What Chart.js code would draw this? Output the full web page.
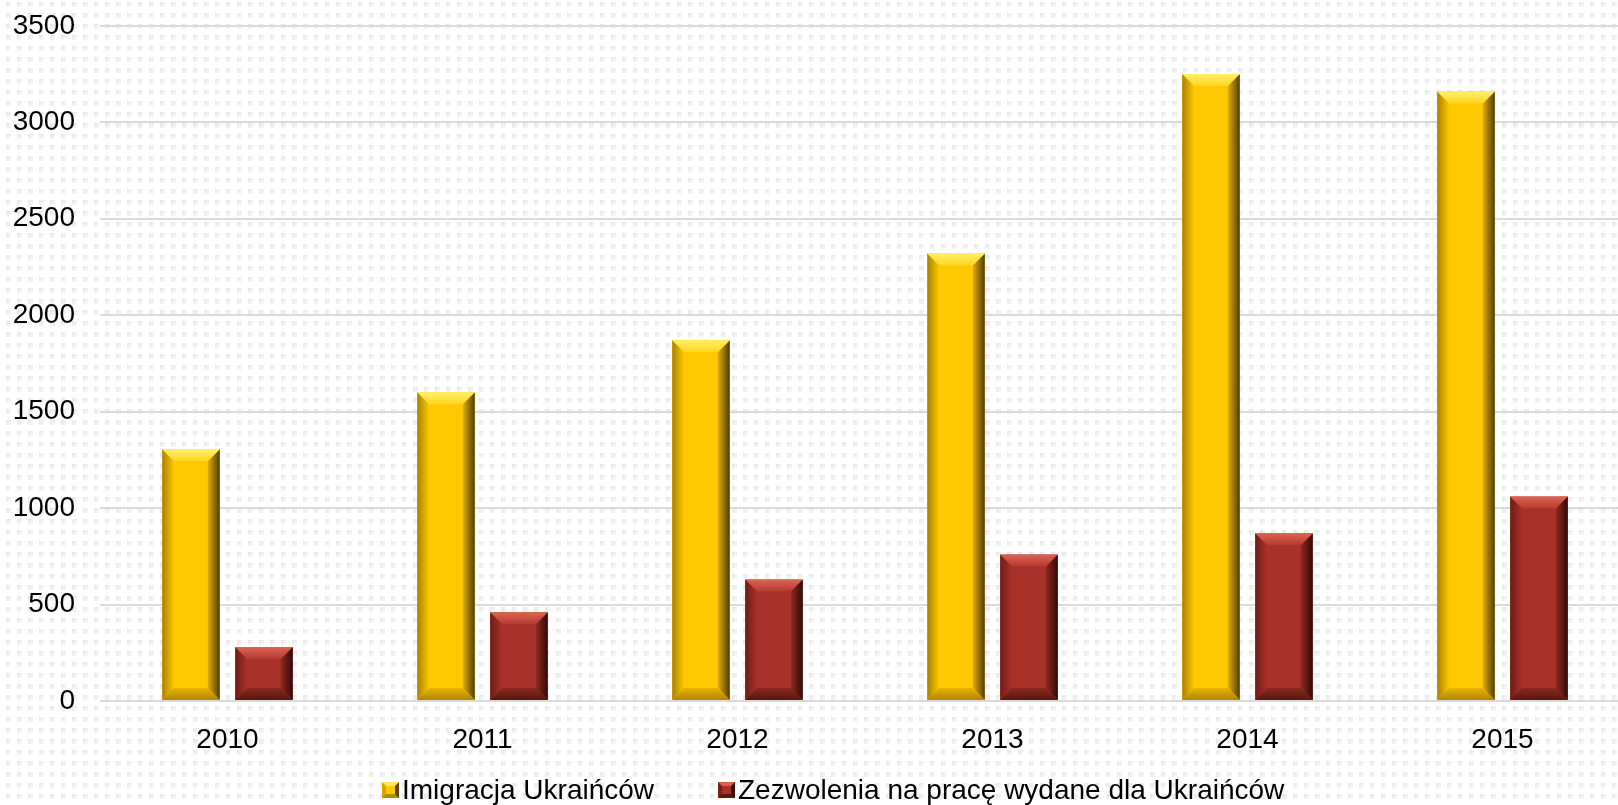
<!DOCTYPE html>
<html>
<head>
<meta charset="utf-8">
<script src="https://cdn.jsdelivr.net/npm/chart.js@4.4.0/dist/chart.umd.min.js"></script>
<style>
  html, body { margin: 0; padding: 0; width: 1618px; height: 805px; overflow: hidden; }
  body {
    position: relative;
    background-color: #fff;
    background-image:
      linear-gradient(to right, rgba(255,255,255,0) 5px, #fff 5px),
      linear-gradient(to bottom, rgba(255,255,255,0) 5px, #fff 5px),
      linear-gradient(135deg, #e4e4e4 0%, #fafafa 45%, #fff 100%);
    background-size: 11px 11px;
    background-position: 6px 2px;
    font-family: "Liberation Sans", Arial, sans-serif;
  }
  #wrap { position: absolute; left: 0; top: -16px; width: 1640px; height: 821px; }
  .item { position: absolute; top: 776px; height: 28px; line-height: 28px; font-size: 28px; color: #000; white-space: nowrap; display: flex; align-items: center; }
  .box { width: 17px; height: 16px; box-sizing: border-box; border: 4px solid; margin-right: 3px; }
  .box.yellow { background: #ffc800; border-color: #ffe860 #5a4600 #b88a00 #d9a600; }
  .box.red { background: #a8322a; border-color: #d8604e #3a0e0a #5a1812 #7a2018; }
</style>
</head>
<body>
<div id="wrap"><canvas id="chart" width="1640" height="821"></canvas></div>
<div class="item" style="left:382px"><span class="box yellow"></span>Imigracja Ukraińców</div>
<div class="item" style="left:718px"><span class="box red"></span>Zezwolenia na pracę wydane dla Ukraińców</div>
<script>
  // Data
  var years = ["2010", "2011", "2012", "2013", "2014", "2015"];
  var imigracja = [1305, 1600, 1870, 2320, 3250, 3160];
  var zezwolenia = [280, 460, 630, 760, 870, 1060];
  var yTicks = [0, 500, 1000, 1500, 2000, 2500, 3000, 3500];

  // Bevel colours per dataset
  var bevel = [
    { top: ["#fff06a", "#ffd41e"], right: ["#e6ae00", "#4e3c00"], bottom: ["#eab400", "#b08400"], left: ["#a88200", "#ffc800"] },
    { top: ["#dc6452", "#b63a30"], right: ["#92291f", "#300b08"], bottom: ["#8c2920", "#561710"], left: ["#6e1c15", "#a8322a"] },
  ];

  function grad(ctx, x0, y0, x1, y1, c) {
    var g = ctx.createLinearGradient(x0, y0, x1, y1);
    g.addColorStop(0, c[0]);
    g.addColorStop(1, c[1]);
    return g;
  }

  function poly(ctx, pts, fill) {
    ctx.beginPath();
    ctx.moveTo(pts[0], pts[1]);
    for (var i = 2; i < pts.length; i += 2) ctx.lineTo(pts[i], pts[i + 1]);
    ctx.closePath();
    ctx.fillStyle = fill;
    ctx.fill();
  }

  // Bevelled bar faces
  var bevelPlugin = {
    id: "bevel",
    afterDatasetsDraw: function (chart) {
      var ctx = chart.ctx;
      ctx.save();
      chart.data.datasets.forEach(function (ds, di) {
        var pal = bevel[di];
        chart.getDatasetMeta(di).data.forEach(function (bar) {
          var L = bar.x - bar.width / 2, R = bar.x + bar.width / 2, T = bar.y, B = bar.base;
          var b = Math.min(12, bar.width / 4, (B - T) / 2);
          poly(ctx, [L, T, L + b, T + b, L + b, B - b, L, B], grad(ctx, L, 0, L + b, 0, pal.left));
          poly(ctx, [R, T, R, B, R - b, B - b, R - b, T + b], grad(ctx, R - b, 0, R, 0, pal.right));
          poly(ctx, [L, T, R, T, R - b, T + b, L + b, T + b], grad(ctx, 0, T, 0, T + b, pal.top));
          poly(ctx, [L, B, L + b, B - b, R - b, B - b, R, B], grad(ctx, 0, B - b, 0, B, pal.bottom));
        });
      });
      ctx.restore();
    },
  };

  Chart.defaults.font.family = "'Liberation Sans', Arial, sans-serif";
  Chart.defaults.color = "#000000";

  var ctx = document.getElementById("chart").getContext("2d");
  var myChart = new Chart(ctx, {
    type: "bar",
    data: {
      labels: years,
      datasets: [
        { label: "Imigracja Ukraińców", data: imigracja, backgroundColor: "#ffc800" },
        { label: "Zezwolenia na pracę wydane dla Ukraińców", data: zezwolenia, backgroundColor: "#a8322a" },
      ],
    },
    options: {
      responsive: false,
      animation: false,
      categoryPercentage: 0.5725,
      barPercentage: 0.788,
      layout: { padding: { top: 13, right: 10, bottom: 0, left: 0 } },
      plugins: { legend: { display: false }, tooltip: { enabled: false } },
      scales: {
        x: {
          grid: { display: false },
          border: { display: false },
          ticks: { font: { size: 28 }, padding: 14 },
          afterFit: function (scale) { scale.height = 104; },
        },
        y: {
          min: 0,
          max: 3500,
          afterBuildTicks: function (scale) {
            scale.ticks = yTicks.map(function (v) { return { value: v }; });
          },
          grid: { color: "#d9d9d9", lineWidth: 2, drawTicks: false },
          border: { display: false },
          ticks: {
            font: { size: 28 },
            padding: 25,
            callback: function (v) { return String(v); },
          },
          afterFit: function (scale) { scale.width = 100; },
        },
      },
    },
    plugins: [bevelPlugin],
  });
</script>
</body>
</html>
